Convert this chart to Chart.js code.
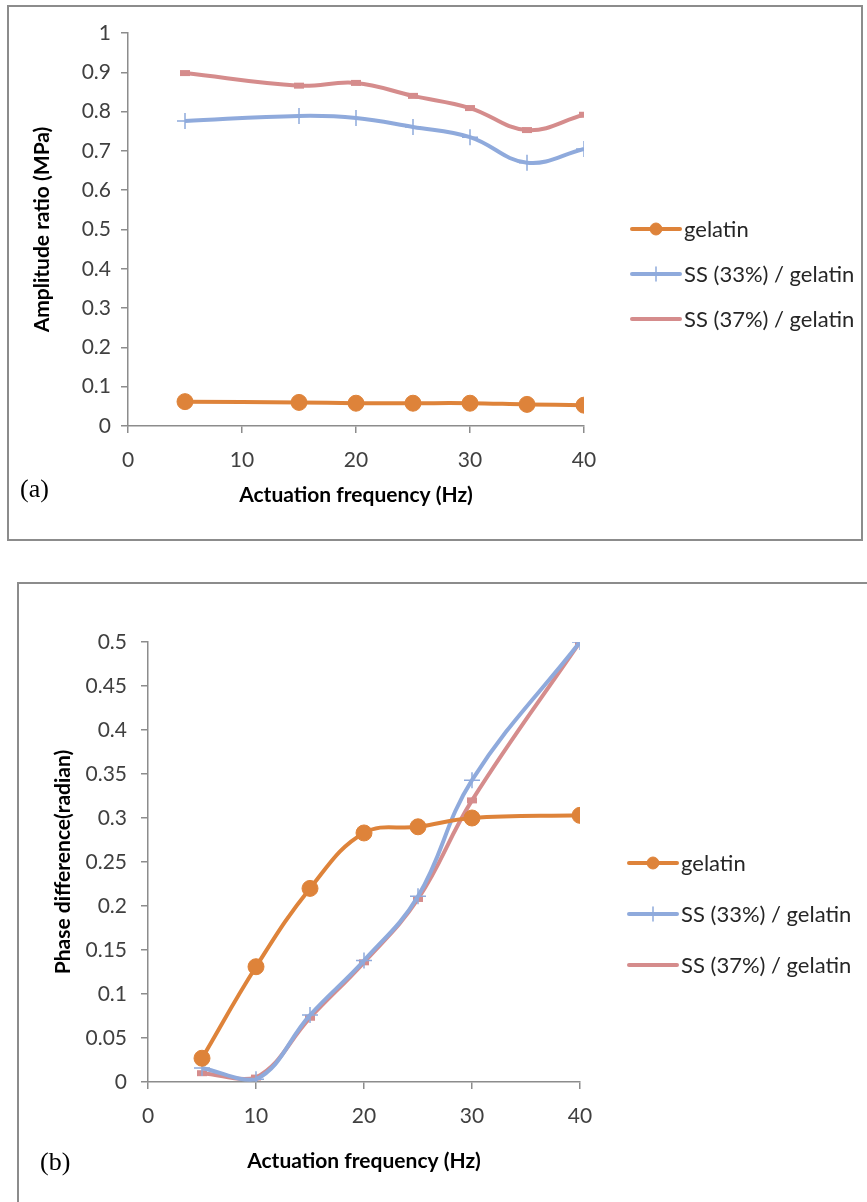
<!DOCTYPE html>
<html>
<head>
<meta charset="utf-8">
<script src="https://cdn.jsdelivr.net/npm/chart.js@4.4.0/dist/chart.umd.min.js"></script>
<style>
  body { margin: 0; background: #fff; width: 867px; height: 1202px; position: relative; overflow: hidden; }
  .box { position: absolute; border: 2px solid #8c8c8c; box-sizing: border-box; }
  .cv { position: absolute; left: 0; width: 867px; }
  .tag { position: absolute; font-family: "Liberation Serif", "DejaVu Serif", serif; font-size: 26px; color: #000; line-height: 30px; }
</style>
</head>
<body>
<div class="box" style="left:7px;top:5px;width:856px;height:536px"></div>
<div class="box" style="left:17px;top:582px;width:870px;height:640px"></div>
<div class="cv" style="top:0;height:545px"><canvas id="chartA"></canvas></div>
<div class="cv" style="top:583px;height:619px"><canvas id="chartB"></canvas></div>
<div class="tag" style="left:20px;top:474px">(a)</div>
<div class="tag" style="left:40px;top:1147px">(b)</div>

<script>
// chart (a): amplitude ratio
const freqA = [5, 15, 20, 25, 30, 35, 40];
const gelatinA = [0.062, 0.060, 0.058, 0.058, 0.058, 0.055, 0.053];
const ss33A = [0.776, 0.789, 0.784, 0.761, 0.735, 0.670, 0.705];
const ss37A = [0.898, 0.866, 0.873, 0.840, 0.809, 0.753, 0.792];

// chart (b): phase difference
const freqB = [5, 10, 15, 20, 25, 30, 40];
const gelatinB = [0.027, 0.131, 0.220, 0.283, 0.290, 0.300, 0.303];
const ss33B = [0.016, 0.003, 0.076, 0.138, 0.211, 0.343, 0.500];
const ss37B = [0.010, 0.005, 0.073, 0.136, 0.208, 0.320, 0.500];

const seriesNames = ['gelatin', 'SS (33%) / gelatin', 'SS (37%) / gelatin'];
const xTicksStep = 10;

const ORANGE = '#DE833A';
const BLUE = '#8FAADC';
const RED = '#D58C8C';
const AXIS = '#8c8c8c';
const TEXT = '#404040';

function pts(xs, ys) {
  return xs.map((x, i) => ({ x: x, y: ys[i] }));
}

// Excel style tick text: 1, 0.5, 0.05 (no padded zeros)
function plainNum(v) {
  return String(Math.round(v * 100) / 100);
}

// legend drawn at the right: line with the marker in the middle
const sideLegend = {
  id: 'sideLegend',
  afterDraw(chart, args, opts) {
    const ctx = chart.ctx;
    ctx.save();
    chart.data.datasets.forEach((ds, i) => {
      const y = opts.top + i * opts.gap;
      ctx.strokeStyle = ds.borderColor;
      ctx.lineWidth = 4;
      ctx.lineCap = 'round';
      ctx.beginPath();
      ctx.moveTo(opts.left, y);
      ctx.lineTo(opts.left + 48, y);
      ctx.stroke();
      if (ds.pointStyle !== 'line') {
        ctx.fillStyle = ds.borderColor;
        ctx.lineWidth = ds.pointBorderWidth;
        Chart.helpers.drawPoint(ctx, {
          pointStyle: ds.pointStyle,
          radius: ds.pointStyle === 'circle' ? 6 : 7,
          borderWidth: ds.pointBorderWidth,
          rotation: 0
        }, opts.left + 24, y);
      }
      ctx.fillStyle = '#262626';
      ctx.font = '22px Lato';
      ctx.textBaseline = 'middle';
      ctx.textAlign = 'left';
      ctx.fillText(ds.label, opts.left + 52, y + 1);
    });
    ctx.restore();
  }
};

function makeDatasets(xs, g, s33, s37) {
  return [
    {
      label: seriesNames[0], data: pts(xs, g),
      borderColor: ORANGE, backgroundColor: ORANGE, borderWidth: 4,
      pointStyle: 'circle', pointRadius: 8, pointBorderWidth: 1, tension: 0.4
    },
    {
      label: seriesNames[1], data: pts(xs, s33),
      borderColor: BLUE, backgroundColor: BLUE, borderWidth: 4,
      pointStyle: 'cross', pointRadius: 8, pointBorderWidth: 1.5, tension: 0.4
    },
    {
      label: seriesNames[2], data: pts(xs, s37),
      borderColor: RED, backgroundColor: RED, borderWidth: 4,
      pointStyle: 'line', pointRadius: 5, pointBorderWidth: 6, tension: 0.4
    }
  ];
}

function makeChart(id, datasets, cfg) {
  const ctx = document.getElementById(id).getContext('2d');
  return new Chart(ctx, {
    type: 'line',
    data: { datasets: datasets },
    plugins: [sideLegend],
    options: {
      responsive: true,
      maintainAspectRatio: false,
      animation: false,
      layout: { padding: cfg.padding },
      plugins: {
        legend: { display: false },
        tooltip: { enabled: false },
        sideLegend: cfg.legend
      },
      scales: {
        x: {
          type: 'linear', min: 0, max: 40,
          ticks: { stepSize: xTicksStep, color: TEXT, font: { family: 'Lato', size: 21 }, padding: 15, callback: plainNum },
          grid: { drawOnChartArea: false, tickLength: 7, color: AXIS, lineWidth: 1.5 },
          border: { color: AXIS, width: 1.5 },
          title: {
            display: true, text: 'Actuation frequency (Hz)', color: '#000',
            font: { family: 'Lato', size: 21, weight: 'bold' }, padding: { top: 0, bottom: cfg.xTitlePad }
          },
          afterFit(scale) { scale.height = 100; }
        },
        y: {
          min: 0, max: cfg.yMax,
          ticks: { stepSize: cfg.yStep, color: TEXT, font: { family: 'Lato', size: 21 }, padding: cfg.yTickPad, callback: plainNum },
          grid: { drawOnChartArea: false, tickLength: 7, color: AXIS, lineWidth: 1.5 },
          border: { color: AXIS, width: 1.5 },
          title: {
            display: true, text: cfg.yTitle, color: '#000',
            font: { family: 'Lato', size: 21, weight: 'bold' }, padding: { top: cfg.yTitlePad, bottom: 0 }
          },
          afterFit(scale) { scale.width = cfg.yWidth; }
        }
      }
    }
  });
}

makeChart('chartA', makeDatasets(freqA, gelatinA, ss33A, ss37A), {
  padding: { left: 0, top: 33, right: 283, bottom: 19 },
  legend: { left: 632, top: 229, gap: 45 },
  yMax: 1, yStep: 0.1, yTickPad: 10,
  yTitle: 'Amplitude ratio (MPa)', yTitlePad: 30, yWidth: 128,
  xTitlePad: 18
});

makeChart('chartB', makeDatasets(freqB, gelatinB, ss33B, ss37B), {
  padding: { left: 0, top: 59, right: 287, bottom: 20 },
  legend: { left: 629, top: 280, gap: 51 },
  yMax: 0.5, yStep: 0.05, yTickPad: 14,
  yTitle: 'Phase difference(radian)', yTitlePad: 51, yWidth: 148,
  xTitlePad: 8
});
</script>
</body>
</html>
